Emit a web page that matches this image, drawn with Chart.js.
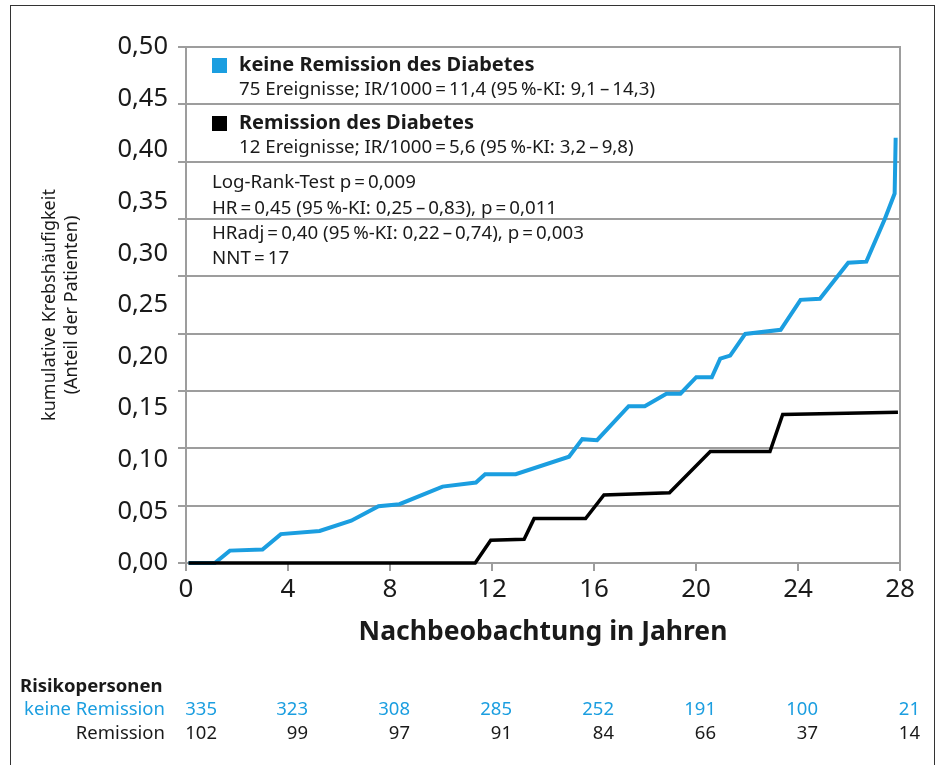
<!DOCTYPE html>
<html>
<head>
<meta charset="utf-8">
<script src="https://cdn.jsdelivr.net/npm/chart.js@4.4.1/dist/chart.umd.min.js"></script>
<style>
  html, body { margin: 0; padding: 0; background: #fff; }
  #wrap { position: relative; width: 937px; height: 765px; overflow: hidden; }
  #wrap canvas { position: absolute; left: 0; top: 0; }
  #frame { position: absolute; left: 10px; top: 5px; width: 925px; height: 780px;
           border: 1.5px solid #333; box-sizing: border-box; pointer-events: none; }
</style>
</head>
<body>
<div id="wrap">
  <canvas id="chart" width="937" height="765"></canvas>
  <div id="frame"></div>
</div>
<script>
/* ---------- data ---------- */
// keine Remission des Diabetes
const yearsNoRem = [0.1, 1.13, 1.72, 3.0, 3.72, 5.24, 6.48, 7.55, 8.37, 10.06,
                    11.37, 11.73, 12.93, 15.02, 15.54, 16.12, 17.36, 17.99, 18.84, 19.39,
                    20.01, 20.62, 20.95, 21.34, 21.93, 23.32, 24.1, 24.86, 25.97, 26.68,
                    27.4, 27.79, 27.83];
const incNoRem   = [0, 0, 0.012, 0.013, 0.028, 0.031, 0.041, 0.055, 0.057, 0.074,
                    0.078, 0.086, 0.086, 0.103, 0.12, 0.119, 0.152, 0.152, 0.164, 0.164,
                    0.18, 0.18, 0.198, 0.201, 0.222, 0.226, 0.255, 0.256, 0.291, 0.292,
                    0.333, 0.358, 0.412];
// Remission des Diabetes
const yearsRem = [0.1, 11.34, 11.95, 13.26, 13.65, 15.67, 16.39, 18.96, 20.56, 22.9, 23.4, 27.92];
const incRem   = [0, 0, 0.022, 0.023, 0.043, 0.043, 0.066, 0.068, 0.108, 0.108, 0.144, 0.146];

// Risikopersonen
const riskTimes = [0, 4, 8, 12, 16, 20, 24, 28];
const riskNoRem = [335, 323, 308, 285, 252, 191, 100, 21];
const riskRem   = [102, 99, 97, 91, 84, 66, 37, 14];

// Textblock im Diagramm
const legendNoRem = ['keine Remission des Diabetes',
                     '75 Ereignisse; IR/1000\u2009=\u200911,4 (95\u2009%-KI: 9,1\u2009\u2013\u200914,3)'];
const legendRem   = ['Remission des Diabetes',
                     '12 Ereignisse; IR/1000\u2009=\u20095,6 (95\u2009%-KI: 3,2\u2009\u2013\u20099,8)'];
const statLines   = ['Log-Rank-Test p\u2009=\u20090,009',
                     'HR\u2009=\u20090,45 (95\u2009%-KI: 0,25\u2009\u2013\u20090,83), p\u2009=\u20090,011',
                     'HRadj\u2009=\u20090,40 (95\u2009%-KI: 0,22\u2009\u2013\u20090,74), p\u2009=\u20090,003',
                     'NNT\u2009=\u200917'];

/* ---------- styles ---------- */
const FONT = '"Noto Sans", "Open Sans", sans-serif';
const BLUE = '#1b9ee0';
const INK  = '#1a1a1a';
const GRID = '#9d9d9d';

const toXY = (xs, ys) => xs.map((x, i) => ({ x, y: ys[i] }));

/* ---------- Texte: Legende, Statistik, Risikotabelle ---------- */
const notes = {
  id: 'notes',
  afterDatasetsDraw(chart) {
    const ctx = chart.ctx;
    const xs = chart.scales.x;
    ctx.save();
    ctx.textBaseline = 'middle';
    ctx.textAlign = 'left';

    // Legende
    ctx.fillStyle = BLUE;  ctx.fillRect(212, 58, 15, 15);
    ctx.fillStyle = '#000'; ctx.fillRect(212, 116, 15, 15);
    ctx.fillStyle = INK;
    ctx.font = 'bold 20px ' + FONT;
    ctx.fillText(legendNoRem[0], 239, 65);
    ctx.fillText(legendRem[0], 239, 123);
    ctx.font = '18.7px ' + FONT;
    ctx.fillText(legendNoRem[1], 239, 90);
    ctx.fillText(legendRem[1], 239, 148);
    statLines.forEach((t, i) => ctx.fillText(t, 212, 183 + i * 25.2));

    // Risikopersonen
    ctx.font = 'bold 18.5px ' + FONT;
    ctx.fillText('Risikopersonen', 20, 687);
    ctx.font = '18.5px ' + FONT;
    ctx.textAlign = 'right';
    ctx.fillStyle = BLUE;
    ctx.fillText('keine Remission', 165, 710);
    riskTimes.forEach((t, i) => {
      const px = xs.getPixelForValue(t) + (i === 0 ? 31 : 20);
      ctx.fillText(String(riskNoRem[i]), px, 710);
    });
    ctx.fillStyle = INK;
    ctx.fillText('Remission', 165, 734);
    riskTimes.forEach((t, i) => {
      const px = xs.getPixelForValue(t) + (i === 0 ? 31 : 20);
      ctx.fillText(String(riskRem[i]), px, 734);
    });
    ctx.restore();
  }
};

new Chart(document.getElementById('chart'), {
  type: 'line',
  data: {
    datasets: [
      { label: 'keine Remission', data: toXY(yearsNoRem, incNoRem), borderColor: BLUE,
        borderWidth: 4, pointRadius: 0, tension: 0, order: 1, clip: 6 },
      { label: 'Remission', data: toXY(yearsRem, incRem), borderColor: '#000',
        borderWidth: 3.5, pointRadius: 0, tension: 0, order: 0, clip: 6 }
    ]
  },
  options: {
    responsive: false,
    animation: false,
    devicePixelRatio: 1,
    layout: { padding: { left: 0, top: 47, right: 37, bottom: 112 } },
    plugins: { legend: { display: false }, tooltip: { enabled: false } },
    scales: {
      x: {
        type: 'linear', min: 0, max: 28,
        ticks: { stepSize: 4, maxRotation: 0, padding: 6, color: INK,
                 font: { family: FONT, size: 26, lineHeight: 1 } },
        grid: { drawOnChartArea: false, drawTicks: true, tickLength: 8, color: GRID, lineWidth: 2 },
        border: { display: true, color: GRID, width: 2 },
        title: { display: true, text: 'Nachbeobachtung in Jahren', color: INK,
                 font: { family: FONT, size: 26.5, weight: 'bold' }, padding: { top: 0, bottom: 5 } },
        afterFit: s => { s.height = 90; }
      },
      y: {
        position: 'left', weight: 1, min: 0, max: 0.5,
        ticks: { stepSize: 0.05, padding: 10, color: INK,
                 font: { family: FONT, size: 25.5 },
                 callback: v => v.toFixed(2).replace('.', ',') },
        grid: { display: false, drawTicks: false, tickLength: 0 },
        border: { display: false },
        title: { display: true, text: ['kumulative Krebshäufigkeit', '(Anteil der Patienten)'],
                 color: INK, font: { family: FONT, size: 18, lineHeight: '22px' },
                 padding: { top: 39, bottom: 0 } },
        afterFit: s => { s.width = 178; }
      },
      yg: {
        position: 'left', weight: 0, min: 0, max: 9,
        ticks: { display: false, stepSize: 1 },
        grid: { color: GRID, lineWidth: 2, drawTicks: true, tickLength: 8 },
        border: { display: true, color: GRID, width: 2 },
        afterFit: s => { s.width = 8; }
      },
      yr: {
        position: 'right', min: 0, max: 1,
        ticks: { display: false },
        grid: { display: false, drawTicks: false },
        border: { display: true, color: GRID, width: 2 },
        afterFit: s => { s.width = 0; }
      }
    }
  },
  plugins: [notes]
});
</script>
</body>
</html>
